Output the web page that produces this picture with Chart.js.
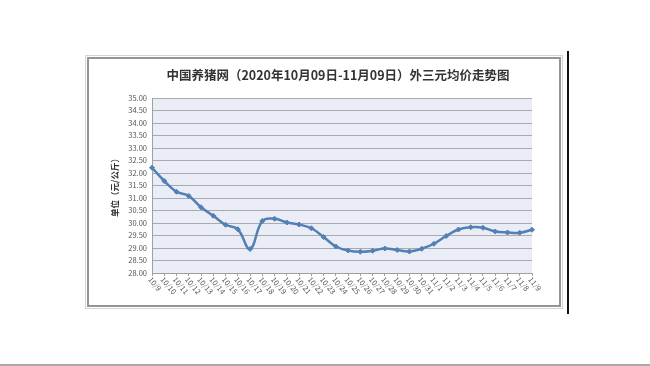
<!DOCTYPE html>
<html>
<head>
<meta charset="utf-8">
<script src="https://cdn.jsdelivr.net/npm/chart.js@4/dist/chart.umd.min.js"></script>
<style>
  html, body { margin: 0; padding: 0; background: #fff; }
  canvas { display: block; }
</style>
</head>
<body>
<canvas id="chart" width="650" height="366"></canvas>
<script>
// data
const days = ['10/9', '10/10', '10/11', '10/12', '10/13', '10/14', '10/15', '10/16', '10/17', '10/18',
  '10/19', '10/20', '10/21', '10/22', '10/23', '10/24', '10/25', '10/26', '10/27', '10/28', '10/29',
  '10/30', '10/31', '11/1', '11/2', '11/3', '11/4', '11/5', '11/6', '11/7', '11/8', '11/9'];
const prices = [32.21, 31.68, 31.25, 31.08, 30.63, 30.29, 29.93, 29.75, 28.96, 30.08,
  30.17, 30.02, 29.94, 29.79, 29.44, 29.06, 28.90, 28.85, 28.89, 28.98, 28.92,
  28.86, 28.97, 29.17, 29.48, 29.74, 29.83, 29.81, 29.66, 29.62, 29.61, 29.73];
const yMin = 28, yMax = 35, yStep = 0.5;
const chartTitle = '中国养猪网（2020年10月09日-11月09日）外三元均价走势图';
const unitLabel = '单位（元/公斤）';

const FONT = '"Noto Sans CJK SC", "Noto Sans", sans-serif';

// frame, plot background, title and the rotated day labels
const decor = {
  id: 'decor',
  beforeDraw(chart) {
    const { ctx, chartArea: a } = chart;
    ctx.save();
    ctx.strokeStyle = '#d4d4d4';
    ctx.lineWidth = 1;
    ctx.strokeRect(85.5, 55.5, 477, 253);
    ctx.strokeStyle = '#949494';
    ctx.lineWidth = 2;
    ctx.strokeRect(88, 58, 472, 248);
    ctx.fillStyle = '#eaedf6';
    ctx.fillRect(a.left, a.top, a.right - a.left, a.bottom - a.top);
    // black bar at right and grey rule at bottom
    ctx.fillStyle = '#111';
    ctx.fillRect(567, 51, 2, 263);
    ctx.fillStyle = '#aaaaaa';
    ctx.fillRect(0, 364, 650, 2);
    ctx.restore();
  },
  afterDraw(chart) {
    const { ctx } = chart;
    const xs = chart.scales.x;
    ctx.save();
    ctx.fillStyle = '#333';
    ctx.font = 'bold 12.5px ' + FONT;
    ctx.textAlign = 'center';
    ctx.textBaseline = 'middle';
    ctx.fillText(chartTitle, 338, 75);

    ctx.fillStyle = '#555';
    ctx.font = '7.5px ' + FONT;
    ctx.textAlign = 'left';
    days.forEach((d, i) => {
      const x = xs.getPixelForValue(i);
      ctx.save();
      ctx.translate(x - 2, xs.top + 5);
      ctx.rotate(50 * Math.PI / 180);
      ctx.fillText(d, 0, 0);
      ctx.restore();
    });
    ctx.restore();
  }
};

new Chart(document.getElementById('chart'), {
  type: 'line',
  data: {
    labels: days,
    datasets: [{
      data: prices,
      borderColor: '#5280b5',
      backgroundColor: '#5280b5',
      borderWidth: 2.5,
      tension: 0.4,
      pointStyle: 'rectRot',
      pointRadius: 2.5,
      pointBorderWidth: 1,
      fill: false
    }]
  },
  options: {
    responsive: false,
    animation: false,
    layout: { padding: { left: 106, right: 118, top: 98, bottom: 63 } },
    plugins: {
      legend: { display: false },
      tooltip: { enabled: false }
    },
    scales: {
      x: {
        offset: false,
        afterFit: (s) => { s.height = 30; },
        grid: { drawOnChartArea: false, drawTicks: true, tickLength: 3, color: '#a0a0a0' },
        border: { color: '#a0a0a0' },
        ticks: { display: false }
      },
      y: {
        min: yMin,
        max: yMax,
        afterFit: (s) => { s.width = 46; },
        grid: { color: '#a9a9b2', drawTicks: false },
        border: { color: '#a0a0a0' },
        ticks: {
          stepSize: yStep,
          padding: 5,
          color: '#555',
          font: { size: 7.5, family: FONT },
          callback: (v) => Number(v).toFixed(2)
        },
        title: {
          display: true,
          text: unitLabel,
          color: '#333',
          font: { size: 8.5, weight: 'bold', family: FONT },
          padding: { top: 4, bottom: 4 }
        }
      }
    }
  },
  plugins: [decor]
});
</script>
</body>
</html>
